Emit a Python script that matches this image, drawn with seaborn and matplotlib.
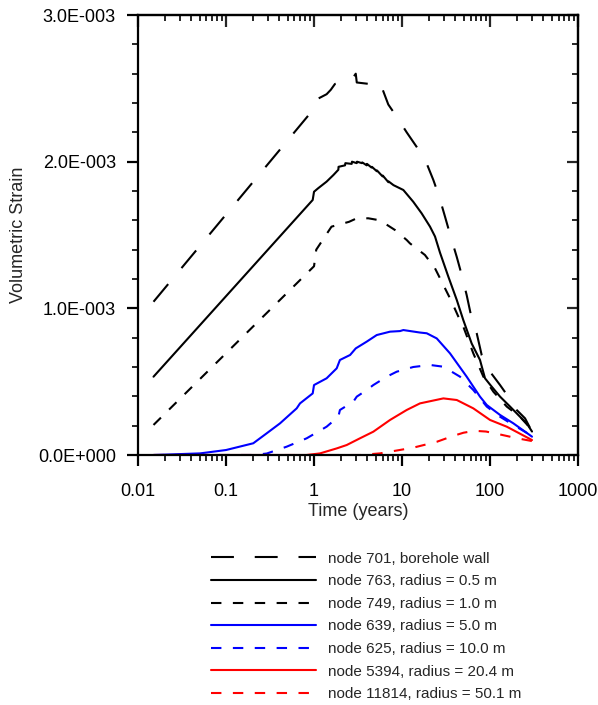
import numpy as np
import pandas as pd
import seaborn as sns
import matplotlib.pyplot as plt
from matplotlib.ticker import FuncFormatter, MultipleLocator, AutoMinorLocator, LogLocator, NullFormatter

sns.set_style('white')
plt.rcParams['font.family'] = ['Liberation Sans', 'DejaVu Sans']

# time in years, strain in units of 1E-003
t_701 = [0.015, 0.87, 1.09, 1.39, 1.55, 1.73, 2.25, 2.68, 2.98, 3.06, 4.25, 4.93, 5.07, 6.04,
         6.98, 8.84, 11.3, 14.7, 18.7, 22.7, 26.5, 30.8, 35.7, 41.9, 47.7, 54.3, 61.9, 70.6,
         80.5, 100, 130, 161, 201, 250, 300]
v_701 = [1.045, 2.318, 2.427, 2.46, 2.49, 2.53, 2.54, 2.56, 2.60, 2.54, 2.53, 2.54, 2.50, 2.49,
         2.39, 2.30, 2.20, 2.10, 2.00, 1.875, 1.76, 1.625, 1.49, 1.35, 1.227, 1.09, 0.93, 0.83,
         0.68, 0.568, 0.477, 0.398, 0.307, 0.25, 0.159]

t_763 = [0.015, 0.966, 1.0, 1.11, 1.39, 1.66, 1.89, 1.9, 2.25, 2.27, 2.68, 2.70, 3.06, 3.08,
         3.5, 3.53, 3.97, 4.0, 4.5, 4.55, 5.16, 5.2, 6.0, 6.05, 7.0, 7.05, 8.0, 10.35, 13.4,
         16.7, 20.8, 23.7, 27.0, 33.6, 41.9, 49.7, 61.9, 76.9, 87.7, 100, 130, 169, 219, 261, 300]
v_763 = [0.534, 1.739, 1.795, 1.818, 1.864, 1.909, 1.945, 1.965, 1.975, 1.99, 1.985, 2.0, 1.99, 2.0,
         1.99, 1.995, 1.975, 1.985, 1.96, 1.965, 1.935, 1.94, 1.90, 1.905, 1.86, 1.865, 1.84, 1.807,
         1.727, 1.648, 1.557, 1.49, 1.38, 1.216, 1.057, 0.92, 0.76, 0.648, 0.523, 0.48, 0.398,
         0.33, 0.261, 0.216, 0.16]

t_749 = [0.015, 1.0, 1.06, 1.58, 2.5, 3.06, 4.14, 5.62, 8.32, 11.3, 12.3, 18.2, 23.7, 29.5,
         36.7, 43.7, 49.7, 64.6, 84.0, 109, 155, 219, 300]
v_749 = [0.205, 1.287, 1.40, 1.557, 1.59, 1.614, 1.614, 1.60, 1.534, 1.466, 1.443, 1.364, 1.273,
         1.159, 1.045, 0.943, 0.875, 0.693, 0.534, 0.432, 0.33, 0.261, 0.17]

t_639 = [0.015, 0.0507, 0.1, 0.204, 0.29, 0.411, 0.635, 0.693, 0.966, 1.0, 1.39, 1.81, 1.97,
         2.57, 2.98, 3.97, 5.16, 7.31, 9.49, 10.35, 16.0, 19.1, 24.8, 35.1, 54.3, 76.9, 91.8,
         130, 184, 300]
v_639 = [0.0, 0.011, 0.034, 0.08, 0.148, 0.216, 0.318, 0.352, 0.42, 0.477, 0.523, 0.591, 0.648,
         0.682, 0.727, 0.773, 0.818, 0.841, 0.845, 0.852, 0.835, 0.83, 0.795, 0.693, 0.534, 0.398,
         0.341, 0.273, 0.216, 0.125]

t_625 = [0.015, 0.204, 0.29, 0.49, 0.826, 1.39, 1.89, 1.97, 2.80, 3.06, 3.97, 4.72, 6.70, 8.70,
         13.4, 20.8, 29.5, 45.6, 64.6, 91.8, 130, 184, 300]
v_625 = [0.0, 0.0, 0.01, 0.057, 0.114, 0.193, 0.261, 0.307, 0.364, 0.398, 0.443, 0.477, 0.534,
         0.568, 0.60, 0.614, 0.602, 0.534, 0.443, 0.33, 0.261, 0.205, 0.13]

t_5394 = [0.015, 0.826, 1.17, 1.81, 2.35, 3.33, 4.72, 7.31, 11.3, 16.0, 29.5, 41.9, 64.6, 100,
          155, 300]
v_5394 = [0.0, 0.0, 0.011, 0.045, 0.068, 0.114, 0.159, 0.239, 0.307, 0.352, 0.386, 0.375, 0.318,
          0.239, 0.193, 0.102]

t_11814 = [0.015, 3.33, 5.62, 13.4, 24.8, 38.0, 50.0, 67.0, 90.0, 130, 200, 300]
v_11814 = [0.0, 0.0, 0.011, 0.05, 0.09, 0.13, 0.152, 0.165, 0.16, 0.14, 0.115, 0.095]

labels = ['node 701, borehole wall', 'node 763, radius = 0.5 m', 'node 749, radius = 1.0 m',
          'node 639, radius = 5.0 m', 'node 625, radius = 10.0 m', 'node 5394, radius = 20.4 m',
          'node 11814, radius = 50.1 m']
times = [t_701, t_763, t_749, t_639, t_625, t_5394, t_11814]
strains = [v_701, v_763, v_749, v_639, v_625, v_5394, v_11814]

colors = ['black', 'black', 'black', 'blue', 'blue', 'red', 'red']
dash_codes = [(11, 10), '', (5, 5.5), '', (5, 5.5), '', (5, 5.5)]

frames = []
for lab, t, v in zip(labels, times, strains):
    frames.append(pd.DataFrame({'time': t, 'strain': np.array(v) * 1e-3, 'series': lab}))
df = pd.concat(frames, ignore_index=True)

fig = plt.figure(figsize=(5.98, 7.05), dpi=100)
ax = fig.add_axes([0.2308, 0.3546, 0.7358, 0.6241])

sns.lineplot(data=df, x='time', y='strain', hue='series', style='series',
             hue_order=labels, style_order=labels,
             palette=dict(zip(labels, colors)), dashes=dict(zip(labels, dash_codes)),
             estimator=None, sort=False, linewidth=1.5, ax=ax)

ax.set_xscale('log')
ax.set_xlim(0.01, 1000)
ax.set_ylim(0, 3e-3)

ax.yaxis.set_major_locator(MultipleLocator(1e-3))
ax.yaxis.set_minor_locator(AutoMinorLocator(5))


def sci_fmt(val, pos):
    if val == 0:
        return '0.0E+000'
    exp = int(np.floor(np.log10(abs(val)) + 1e-9))
    return f'{val / 10**exp:.1f}E{exp:+04d}'


ax.yaxis.set_major_formatter(FuncFormatter(sci_fmt))
ax.xaxis.set_major_locator(LogLocator(base=10))
ax.xaxis.set_minor_locator(LogLocator(base=10, subs=np.arange(2, 10)))
ax.xaxis.set_major_formatter(FuncFormatter(lambda x, p: f'{x:g}'))
ax.xaxis.set_minor_formatter(NullFormatter())

for s in ax.spines.values():
    s.set_linewidth(1.6)
    s.set_color('black')

ax.tick_params(axis='both', which='major', direction='out', length=8, width=1.6,
               labelsize=13, colors='black')
ax.tick_params(axis='both', which='minor', direction='out', length=4, width=1.4)
ax.tick_params(axis='y', which='major', pad=8)
ax.tick_params(axis='x', which='major', pad=12)
ax.tick_params(left=True, bottom=True, which='both')

# inward ticks on top and right
top = ax.secondary_xaxis('top')
top.xaxis.set_major_locator(LogLocator(base=10))
top.xaxis.set_minor_locator(LogLocator(base=10, subs=np.arange(2, 10)))
top.tick_params(axis='x', which='major', direction='in', length=8.5, width=1.6, labeltop=False)
top.tick_params(axis='x', which='minor', direction='in', length=4, width=1.4)
top.xaxis.set_minor_formatter(NullFormatter())
top.spines['top'].set_linewidth(1.6)

right = ax.secondary_yaxis('right')
right.yaxis.set_major_locator(MultipleLocator(1e-3))
right.yaxis.set_minor_locator(AutoMinorLocator(5))
right.tick_params(axis='y', which='major', direction='in', length=8, width=1.6, labelright=False)
right.tick_params(axis='y', which='minor', direction='in', length=4.5, width=1.4)
right.spines['right'].set_linewidth(1.6)

ax.set_xlabel('Time (years)', fontsize=13, labelpad=2)
ax.set_ylabel('Volumetric Strain', fontsize=13, labelpad=8)

sns.move_legend(ax, 'upper left', bbox_to_anchor=(0.166, -0.22), frameon=False, title=None,
                fontsize=11, handlelength=6.9, handletextpad=0.75, labelspacing=0.56,
                borderaxespad=0, borderpad=0)

fig.savefig('out.png', dpi=100)
